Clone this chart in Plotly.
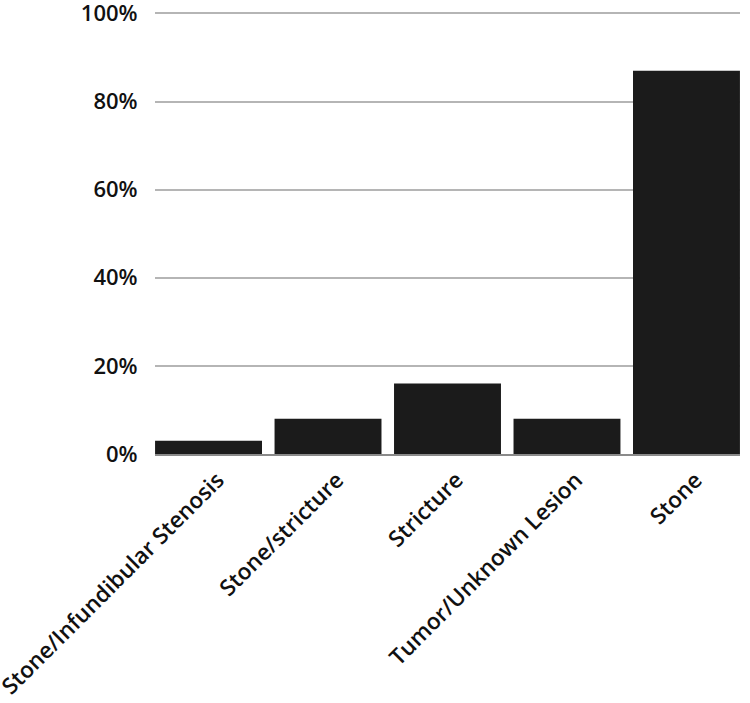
import plotly.graph_objects as go

categories = ["Stone/Infundibular Stenosis", "Stone/stricture", "Stricture", "Tumor/Unknown Lesion", "Stone"]
values = [3, 8, 16, 8, 87]
y_ticks = [0, 20, 40, 60, 80, 100]
y_tick_labels = ["0%", "20%", "40%", "60%", "80%", "100%"]

fig = go.Figure(go.Bar(x=categories, y=values, marker=dict(color="#1b1b1b", line=dict(width=0))))

fig.update_layout(
    width=750, height=703,
    margin=dict(l=155, r=10, t=9, b=249, autoexpand=False),
    paper_bgcolor="white", plot_bgcolor="white",
    bargap=0.105,
    showlegend=False,
    font=dict(family="Open Sans", size=22, color="#111111", weight=600),
)
fig.update_xaxes(
    range=[-0.448, 4.448],
    tickangle=-45,
    showgrid=False,
    showline=True, linecolor="#8a8a8a", linewidth=2,
    ticks="",
    ticklabelshift=9,
    ticklabelstandoff=2,
    ticklabeloverflow="allow",
    automargin=False,
    tickfont=dict(family="Open Sans", size=22.5, color="#111111", weight=600),
)
fig.update_yaxes(
    range=[0, 101],
    tickvals=y_ticks, ticktext=y_tick_labels,
    showgrid=True, gridcolor="#b5b5b5", gridwidth=1.5,
    zeroline=False,
    automargin=False,
    ticklabeloverflow="allow",
    ticks="outside", ticklen=12, tickcolor="rgba(0,0,0,0)",
    tickfont=dict(family="Open Sans", size=22, color="#111111", weight=600),
)
fig.write_html("out.html")
